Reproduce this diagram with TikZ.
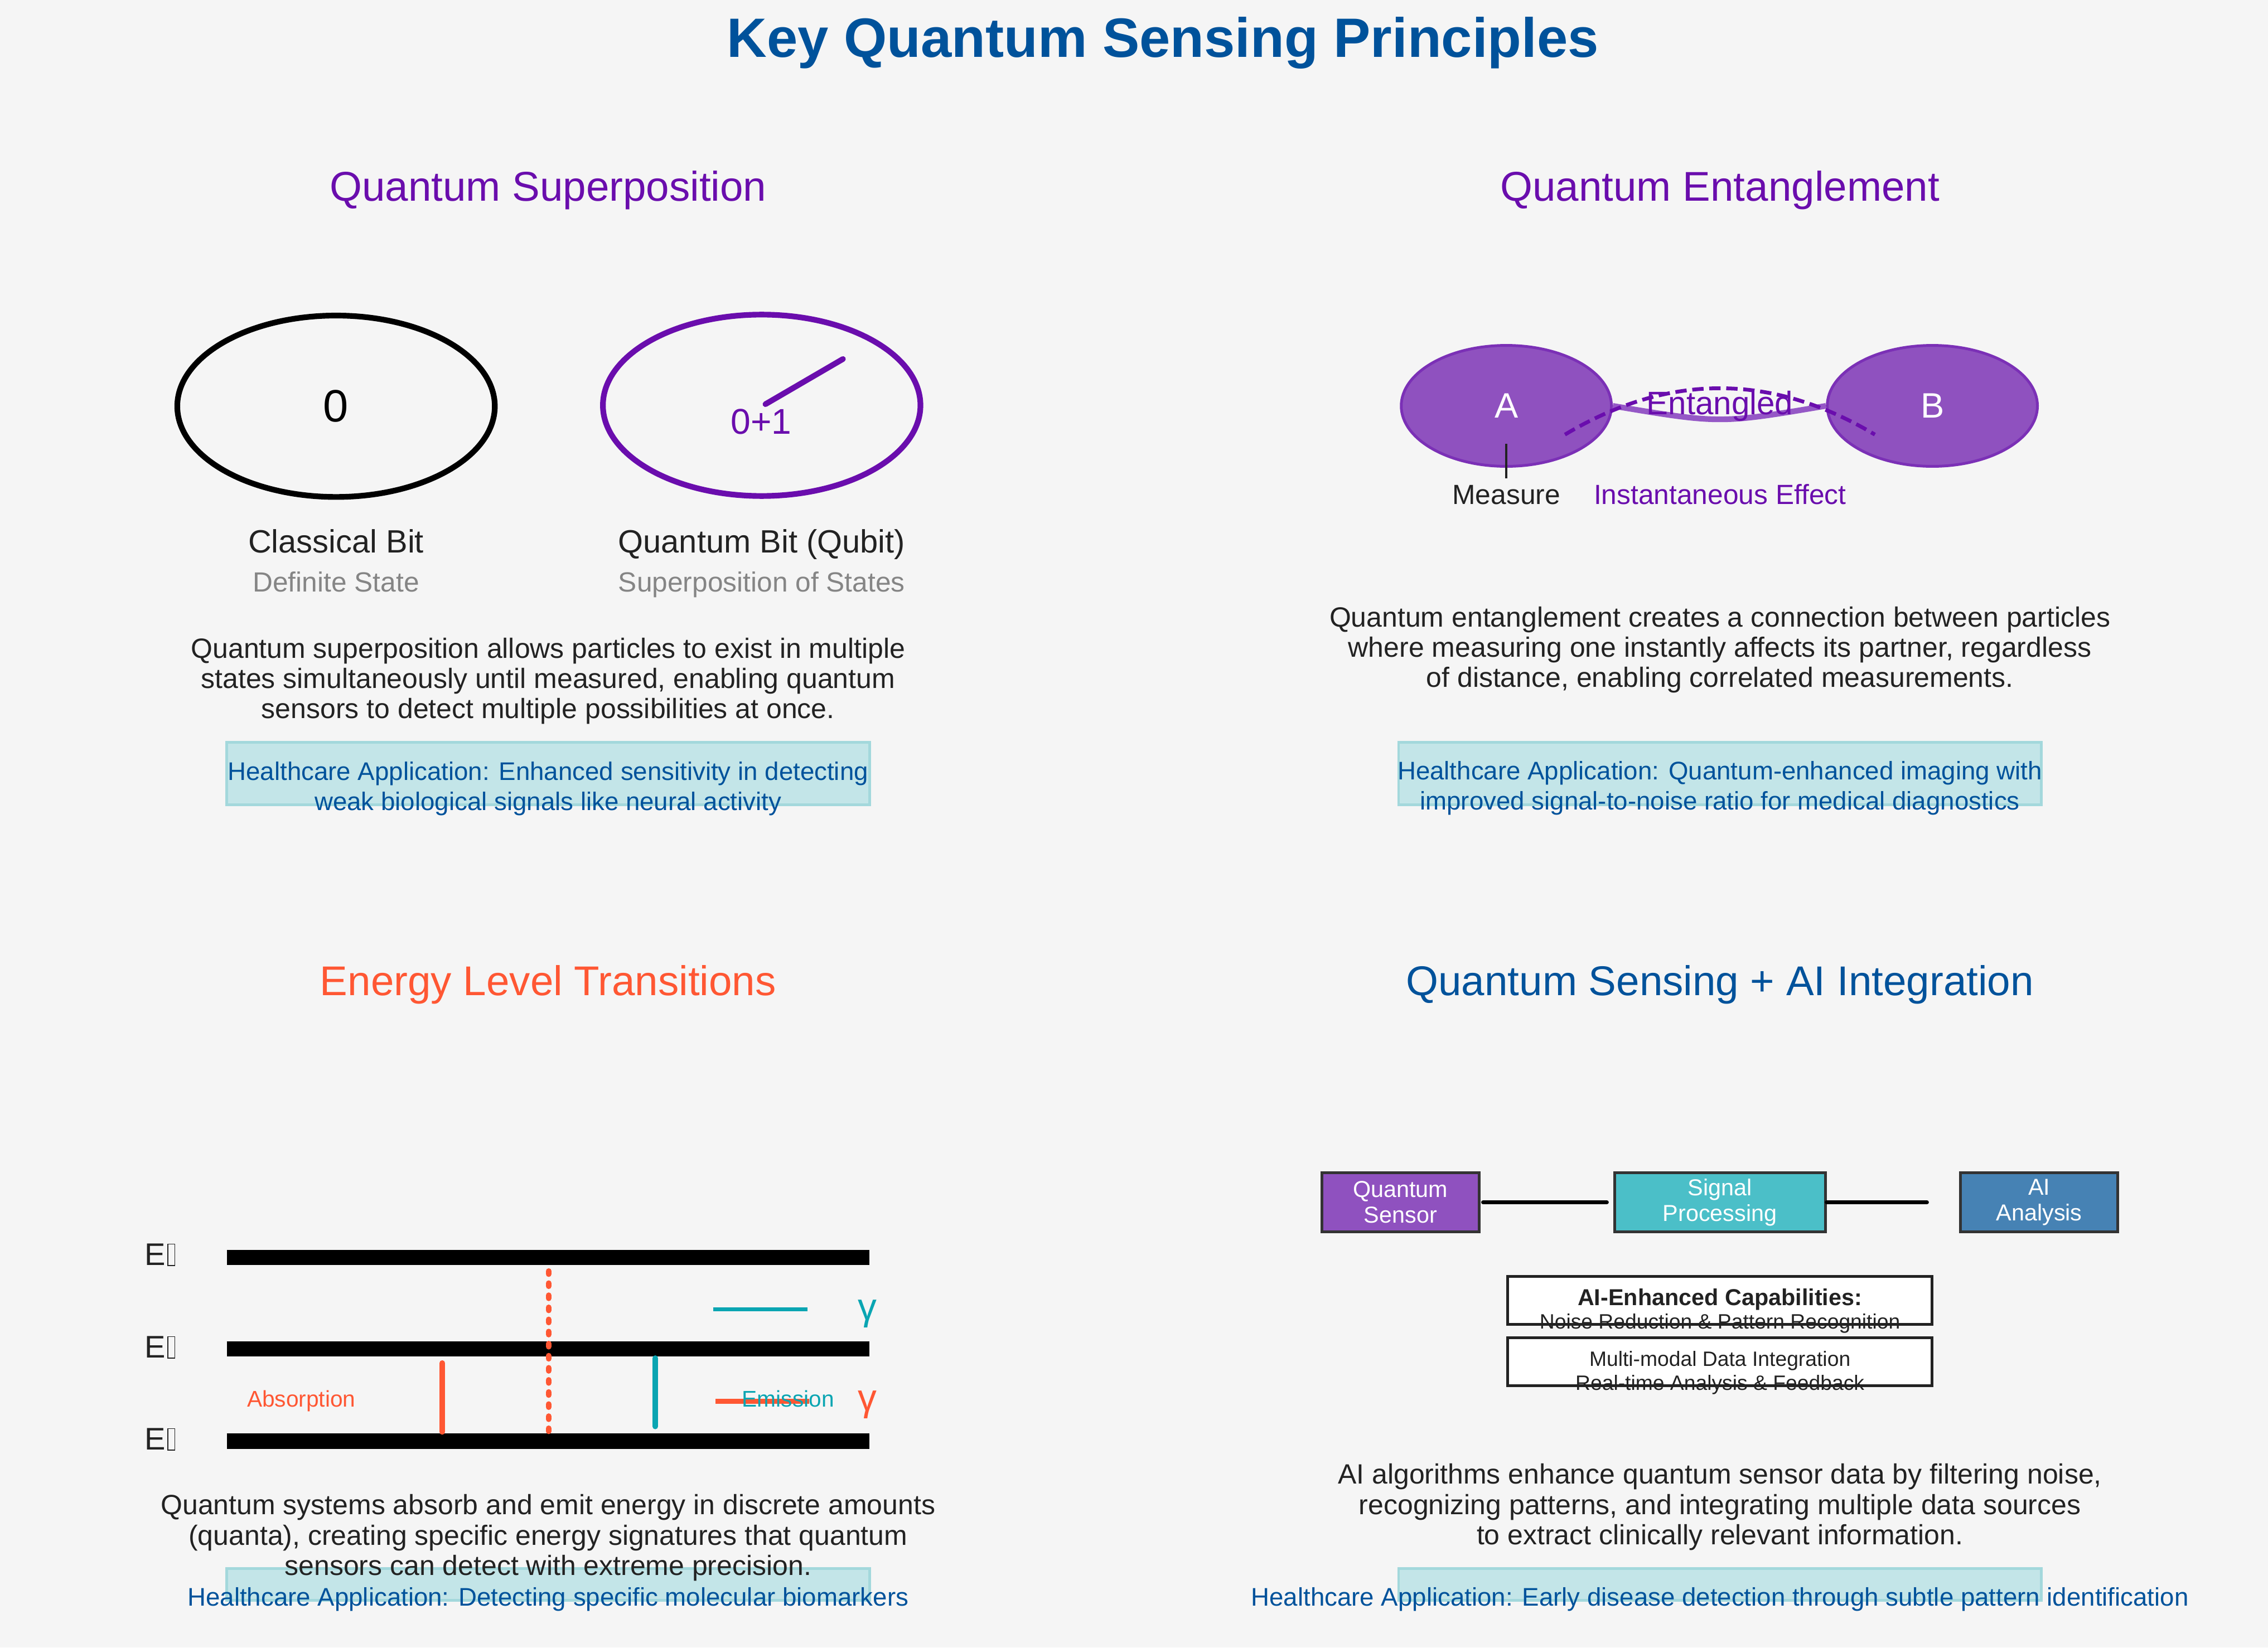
\documentclass[tikz,border=0pt]{standalone}
\usepackage{fontspec}
\setmainfont{Liberation Sans}
\usetikzlibrary{shapes.geometric}

\definecolor{pagebg}{HTML}{F5F5F5}
\definecolor{titleblue}{HTML}{00529B}
\definecolor{qpurple}{HTML}{6A0DAD}
\definecolor{eorange}{HTML}{FF5733}
\definecolor{eteal}{HTML}{0AA5B2}
\definecolor{inkdark}{HTML}{222222}
\definecolor{inkgray}{HTML}{858585}
\definecolor{carefill}{HTML}{C3E5E8}
\definecolor{careedge}{HTML}{A3D8DC}
\definecolor{particle}{HTML}{8F51BF}
\definecolor{particleedge}{HTML}{7B30B6}
\definecolor{bondpurple}{HTML}{9558C6}
\definecolor{sigteal}{HTML}{4BBFC8}
\definecolor{aisteel}{HTML}{4682B4}
\definecolor{boxedge}{HTML}{333333}

% empty box that the renderer printed for the missing subscript
\newcommand{\missingglyph}{\kern0.05em{\setlength{\fboxsep}{0pt}\setlength{\fboxrule}{0.35pt}\fbox{\rule{0pt}{0.66em}\hspace{0.2em}}}}

\tikzset{
  heading/.style={font=\bfseries\fontsize{22}{24}\selectfont, text=titleblue, anchor=base, inner sep=0pt},
  paneltitle/.style={font=\fontsize{16.5}{18}\selectfont, anchor=base, inner sep=0pt},
  bitlabel/.style={font=\fontsize{12.8}{14}\selectfont, text=inkdark, anchor=base, inner sep=0pt},
  statelabel/.style={font=\fontsize{11}{12}\selectfont, text=inkgray, anchor=base, inner sep=0pt},
  bodytext/.style={font=\fontsize{11.06}{12}\selectfont, text=inkdark, align=center, anchor=base, inner sep=0pt},
  caretext/.style={font=\fontsize{10.1}{12}\selectfont, text=titleblue, align=center, anchor=base, inner sep=0pt},
  carebox/.style={draw=careedge, fill=carefill, line width=1.1pt},
  bitring/.style={ellipse, draw, line width=2.25pt, minimum width=126pt, minimum height=72pt, inner sep=0pt},
  particle/.style={ellipse, draw=particleedge, fill=particle, line width=1.1pt, minimum width=83.4pt, minimum height=48pt, inner sep=0pt, text=white, font=\fontsize{14}{16}\selectfont},
  level/.style={line width=6pt},
  levelname/.style={font=\fontsize{12.4}{14}\selectfont, text=inkdark, anchor=base west, inner sep=0pt},
  transition/.style={line width=2.25pt, line cap=round},
  photon/.style={font=\fontsize{15}{16}\selectfont, anchor=base, inner sep=0pt},
  smallnote/.style={font=\fontsize{9}{10}\selectfont, anchor=base, inner sep=0pt},
  flowbox/.style={draw=boxedge, line width=1.1pt, minimum width=62.4pt, minimum height=23.3pt, inner sep=0pt, text=white, align=center, font=\fontsize{9.15}{10.1}\selectfont},
  flowline/.style={line width=1.5pt, line cap=round},
  capbox/.style={draw=inkdark, fill=white, line width=1.1pt, minimum width=168.4pt, minimum height=19.1pt, inner sep=0pt},
  captext/.style={font=\fontsize{8.25}{10}\selectfont, text=inkdark, anchor=base, inner sep=0pt}
}

\begin{document}
\begin{tikzpicture}[x=0.75pt, y=-0.75pt]
  \fill[pagebg] (0,0) rectangle (1200,872);
  \useasboundingbox (0,0) rectangle (1200,872);

  \node[heading] (title) at (615.2,30.3) {Key Quantum Sensing Principles};

  % superposition
  \node[paneltitle, text=qpurple] (supTitle) at (290,106.5) {Quantum Superposition};
  \node[bitring, draw=black, font=\fontsize{18}{20}\selectfont] (cbit) at (177.8,215) {0};
  \node[bitring, draw=qpurple] (qbit) at (403,214.5) {};
  \node[anchor=base, inner sep=0pt, text=qpurple, font=\fontsize{14.2}{16}\selectfont] (qstate) at (402.8,229.6) {0+1};
  \draw[qpurple, line width=2.25pt, line cap=round] (405,213.9) -- (446,190);
  \node[bitlabel] (cbitName) at (177.8,292.4) {Classical Bit};
  \node[bitlabel] (qbitName) at (403,292.4) {Quantum Bit (Qubit)};
  \node[statelabel] (cbitState) at (177.8,313.3) {Definite State};
  \node[statelabel] (qbitState) at (403,313.3) {Superposition of States};
  \node[bodytext] (supDesc) at (290,380.3) {Quantum superposition allows particles to exist in multiple\\states simultaneously until measured, enabling quantum\\sensors to detect multiple possibilities at once.};
  \draw[carebox] (120,393) rectangle (460,426);
  \node[caretext] (supCare) at (290,428.8) {Healthcare Application: Enhanced sensitivity in detecting\\weak biological signals like neural activity};

  % entanglement
  \node[paneltitle, text=qpurple] (entTitle) at (910,106.5) {Quantum Entanglement};
  \node[particle] (pa) at (797,214.8) {A};
  \node[particle] (pb) at (1022.4,214.8) {B};
  \draw[bondpurple, line width=2.25pt] (pa.east) .. controls (910,224.3) .. (pb.west);
  \coordinate (linkA) at (828,230);
  \coordinate (linkB) at (992,230);
  \draw[qpurple, line width=1.5pt, dash pattern=on 4.5pt off 2.25pt] (linkA) .. controls (882.7,197.3) and (937.3,197.3) .. (linkB);
  \node[anchor=base, inner sep=0pt, text=qpurple, font=\fontsize{12.9}{14}\selectfont] (entLabel) at (910,219.3) {Entangled};
  \node[anchor=base, inner sep=0pt, text=inkdark, font=\fontsize{11}{12}\selectfont] (measure) at (797,267) {Measure};
  \coordinate (measureTip) at (797,235);
  \draw[inkdark, line width=0.9pt] (measure.north) ++(0,-3.5) -- (measureTip);
  \node[anchor=base, inner sep=0pt, text=qpurple, font=\fontsize{11}{12}\selectfont] (effect) at (910,267) {Instantaneous Effect};
  \node[bodytext] (entDesc) at (910,363.7) {Quantum entanglement creates a connection between particles\\where measuring one instantly affects its partner, regardless\\of distance, enabling correlated measurements.};
  \draw[carebox] (740,393) rectangle (1080,426);
  \node[caretext] (entCare) at (910,428.6) {Healthcare Application: Quantum-enhanced imaging with\\improved signal-to-noise ratio for medical diagnostics};

  % energy levels
  \node[paneltitle, text=eorange] (energyTitle) at (290,526.7) {Energy Level Transitions};
  \draw[level] (120,665.4) -- (460,665.4);
  \draw[level] (120,714) -- (460,714);
  \draw[level] (120,762.7) -- (460,762.7);
  \node[levelname] (e2) at (76.4,669.6) {E\missingglyph};
  \node[levelname] (e1) at (76.4,718.5) {E\missingglyph};
  \node[levelname] (e0) at (76.4,767.2) {E\missingglyph};
  \draw[transition, eorange] (234,721.4) -- (234,757.8);
  \draw[transition, eorange, dash pattern=on 1.2pt off 3.6pt] (290.3,672.7) -- (290.3,757.8);
  \draw[transition, eteal] (346.7,718.8) -- (346.7,754.9);
  \draw[eteal, line width=1.5pt] (377.3,692.9) -- (427.3,692.9);
  \draw[eorange, line width=1.8pt] (378.6,741.6) -- (428,741.6);
  \node[photon, text=eteal] (gammaOut) at (459,698.4) {γ};
  \node[photon, text=eorange] (gammaIn) at (459,746.6) {γ};
  \node[smallnote, text=eorange] (absorb) at (159.4,744.5) {Absorption};
  \node[smallnote, text=eteal] (emit) at (417,744.5) {Emission};
  \draw[carebox] (120,830) rectangle (460,847);
  \node[bodytext] (energyDesc) at (290,833.6) {Quantum systems absorb and emit energy in discrete amounts\\(quanta), creating specific energy signatures that quantum\\sensors can detect with extreme precision.};
  \node[caretext] (energyCare) at (290,849.8) {Healthcare Application: Detecting specific molecular biomarkers};

  % sensing + AI
  \node[paneltitle, text=titleblue] (aiTitle) at (910,526.7) {Quantum Sensing + AI Integration};
  \node[flowbox, fill=particle] (qs) at (741,636.3) {Quantum\\Sensor};
  \node[flowbox, fill=sigteal, minimum width=83.6pt] (sp) at (910,636.3) {Signal\\Processing};
  \node[flowbox, fill=aisteel] (ai) at (1078.9,636.3) {AI\\Analysis};
  \draw[flowline, shorten <=1pt, shorten >=2.5pt] (qs.east) -- (sp.west);
  \draw[flowline, shorten >=12.75pt] (sp.east) -- (ai.west);
  \node[capbox] (cap1) at (910,688.2) {};
  \node[capbox] (cap2) at (910,720.6) {};
  \node[captext, font=\bfseries\fontsize{9.15}{10}\selectfont] (capHead) at (910,691) {AI-Enhanced Capabilities:};
  \node[captext] (capNoise) at (910,703.2) {Noise Reduction \& Pattern Recognition};
  \node[captext] (capMulti) at (910,722.9) {Multi-modal Data Integration};
  \node[captext] (capReal) at (910,735.7) {Real-time Analysis \& Feedback};
  \node[bodytext] (aiDesc) at (910,817.4) {AI algorithms enhance quantum sensor data by filtering noise,\\recognizing patterns, and integrating multiple data sources\\to extract clinically relevant information.};
  \draw[carebox] (740,830) rectangle (1080,847);
  \node[caretext] (aiCare) at (910,849.8) {Healthcare Application: Early disease detection through subtle pattern identification};
\end{tikzpicture}
\end{document}
